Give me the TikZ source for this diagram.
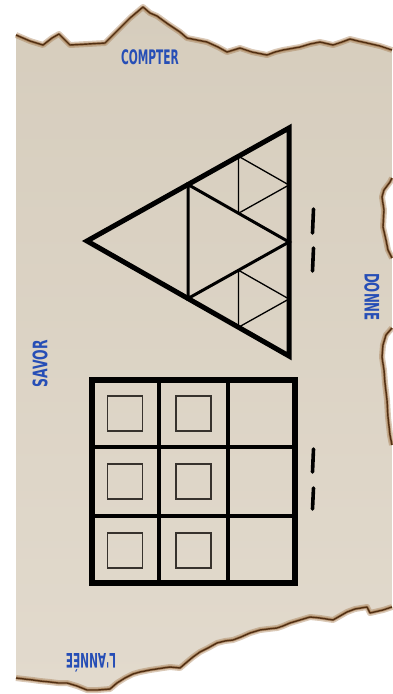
\documentclass[tikz,border=0pt]{standalone}
\usepackage{fontspec}
\usepackage{graphicx}
\usetikzlibrary{calc}
\newfontfamily\lblfont{DejaVu Sans}
\definecolor{papertop}{RGB}{214,205,189}
\definecolor{paperbot}{RGB}{226,218,205}
\definecolor{burnt}{RGB}{80,46,18}
\definecolor{scorch}{RGB}{150,100,50}
\definecolor{inkblue}{RGB}{38,78,182}
\definecolor{pencil}{RGB}{55,50,45}
\newcommand{\lbltext}[2][0.55]{\scalebox{#1}[1]{#2}}
\tikzset{
  lbl/.style={text=inkblue,inner sep=0pt,font=\lblfont\bfseries\fontsize{20}{20}\selectfont},
  tally/.style={line width=3.6pt,line cap=round},
  outerline/.style={line width=5pt,line join=miter},
  midline/.style={line width=3pt},
  thinline/.style={line width=1.3pt},
  box/.style={thinline,draw=pencil}
}
\begin{document}
\begin{tikzpicture}[x=1pt,y=-1pt]
    \useasboundingbox (0,0) rectangle (392,694);
    % paper
    \shade[top color=papertop,bottom color=paperbot] (16,35) -- (30,41) -- (43,45) -- (52,38) -- (59,34) -- (65,40)
      -- (70,45) -- (88,44) -- (105,43) -- (118,30) -- (130,18) -- (143,7) -- (150,13)
      -- (157,16) -- (168,24) -- (180,32) -- (187,38) -- (197,40) -- (207,42) -- (218,47)
      -- (227,52) -- (240,48) -- (252,52) -- (267,55) -- (275,52) -- (283,50) -- (300,47)
      -- (310,44) -- (320,42) -- (333,45) -- (342,42) -- (350,39) -- (358,41) -- (367,43)
      -- (380,46) -- (392,50) -- (392,178) -- (390,182) -- (384,190) -- (382,197)
      -- (384,210) -- (383,227) -- (386,240) -- (388,250) -- (392,258) -- (392,328)
      -- (386,335) -- (383,345) -- (382,357) -- (384,370) -- (385,383) -- (387,400)
      -- (388,417) -- (390,435) -- (392,445) -- (392,607) -- (383,610) -- (370,613)
      -- (367,607) -- (355,609) -- (347,612) -- (340,616) -- (333,620) -- (320,618)
      -- (310,617) -- (300,620) -- (290,623) -- (283,626) -- (277,628) -- (268,629)
      -- (260,630) -- (250,633) -- (241,637) -- (233,640) -- (225,641) -- (217,643)
      -- (208,648) -- (200,652) -- (193,657) -- (187,662) -- (180,668) -- (170,667)
      -- (163,668) -- (150,670) -- (140,672) -- (133,674) -- (125,678) -- (117,683)
      -- (110,689) -- (98,690) -- (87,690) -- (77,686) -- (67,683) -- (58,683)
      -- (50,682) -- (40,681) -- (33,680) -- (24,679) -- (16,678) -- cycle;
    % burnt edges
    \foreach \w/\c/\o in {6/scorch/0.35,3/scorch/0.5,1.4/burnt/1}{
      \draw[line width=\w pt,draw=\c,opacity=\o,line join=round]
        (16,35) -- (30,41) -- (43,45) -- (52,38) -- (59,34) -- (65,40)
        -- (70,45) -- (88,44) -- (105,43) -- (118,30) -- (130,18) -- (143,7) -- (150,13)
        -- (157,16) -- (168,24) -- (180,32) -- (187,38) -- (197,40) -- (207,42) -- (218,47)
        -- (227,52) -- (240,48) -- (252,52) -- (267,55) -- (275,52) -- (283,50) -- (300,47)
        -- (310,44) -- (320,42) -- (333,45) -- (342,42) -- (350,39) -- (358,41) -- (367,43)
        -- (380,46) -- (392,50);
      \draw[line width=\w pt,draw=\c,opacity=\o,line join=round]
        (392,178) -- (390,182) -- (384,190) -- (382,197) -- (384,210) -- (383,227)
        -- (386,240) -- (388,250) -- (392,258);
      \draw[line width=\w pt,draw=\c,opacity=\o,line join=round]
        (392,328) -- (386,335) -- (383,345) -- (382,357) -- (384,370) -- (385,383)
        -- (387,400) -- (388,417) -- (390,435) -- (392,445);
      \draw[line width=\w pt,draw=\c,opacity=\o,line join=round]
        (392,607) -- (383,610) -- (370,613) -- (367,607) -- (355,609) -- (347,612)
        -- (340,616) -- (333,620) -- (320,618) -- (310,617) -- (300,620) -- (290,623)
        -- (283,626) -- (277,628) -- (268,629) -- (260,630) -- (250,633) -- (241,637)
        -- (233,640) -- (225,641) -- (217,643) -- (208,648) -- (200,652) -- (193,657)
        -- (187,662) -- (180,668) -- (170,667) -- (163,668) -- (150,670) -- (140,672)
        -- (133,674) -- (125,678) -- (117,683) -- (110,689) -- (98,690) -- (87,690)
        -- (77,686) -- (67,683) -- (58,683) -- (50,682) -- (40,681) -- (33,680)
        -- (24,679) -- (16,678);
    }
    % labels
    \node[lbl] (compter) at (150,57) {\lbltext[0.53]{COMPTER}};
    \node[lbl,rotate=-90] (donne) at (372,297) {\lbltext[0.59]{DONNE}};
    \node[lbl,rotate=90] (savor) at (40,364) {\lbltext[0.62]{SAVOR}};
    \node[lbl,rotate=180] (annee) at (91,663) {\lbltext[0.53]{L'ANNÉE}};
    % triangle
    \coordinate (L) at (87,241);
    \coordinate (T) at (289,128);
    \coordinate (B) at (289,356);
    \coordinate (LT) at ($(L)!0.5!(T)$);
    \coordinate (LB) at ($(L)!0.5!(B)$);
    \coordinate (TB) at ($(T)!0.5!(B)$);
    \draw[outerline] (L) -- (T) -- (B) -- cycle;
    \draw[midline] (LT) -- (TB) -- (LB) -- cycle;
    \draw[thinline] ($(LT)!0.5!(T)$) -- ($(T)!0.5!(TB)$) -- ($(LT)!0.5!(TB)$) -- cycle;
    \draw[thinline] ($(LB)!0.5!(TB)$) -- ($(TB)!0.5!(B)$) -- ($(LB)!0.5!(B)$) -- cycle;
    % grid
    \draw[line width=6pt,line join=miter] (92,380) rectangle (295,583);
    \draw[line width=3.5pt] (159,380) -- (159,583);
    \draw[line width=3.5pt] (228,380) -- (228,583);
    \draw[line width=3.5pt] (92,447) -- (295,447);
    \draw[line width=3.5pt] (92,516) -- (295,516);
    \foreach \cx in {125,193.5}{
      \foreach \cy in {413.5,481.5,550.5}{
        \draw[box] (\cx-17.5,\cy-17.5) rectangle (\cx+17.5,\cy+17.5);
      }
    }
    % tallies
    \draw[tally] (313.5,209) -- (312.5,233);
    \draw[tally] (313.5,248) -- (312.5,271);
    \draw[tally] (313.5,449) -- (312.5,472);
    \draw[tally] (313.5,488) -- (312.5,509);
  \end{tikzpicture}
\end{document}
